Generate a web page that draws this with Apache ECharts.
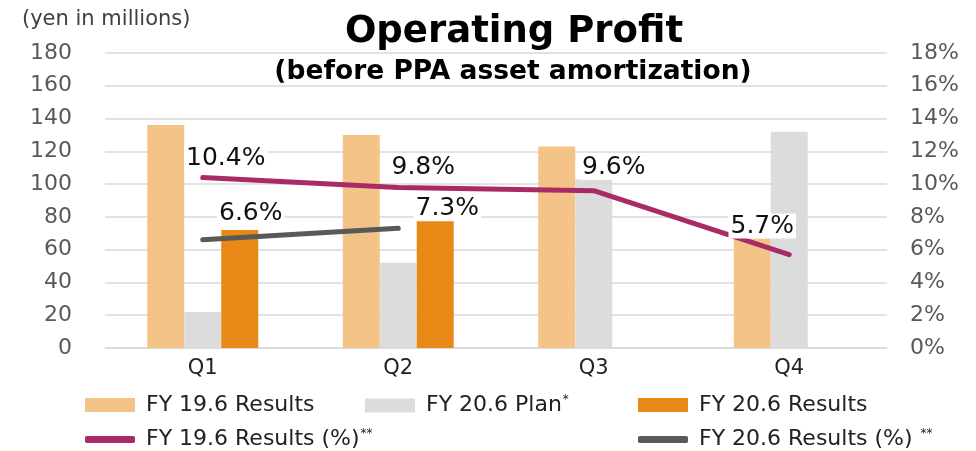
<!DOCTYPE html>
<html>
<head>
<meta charset="utf-8">
<title>Operating Profit</title>
<script src="https://cdn.jsdelivr.net/npm/echarts@6/dist/echarts.min.js"></script>
<style>
  html, body { margin: 0; padding: 0; background: #fff; }
  #chart { width: 976px; height: 451px; }
</style>
</head>
<body>
<div id="chart"></div>
<script>
// data
const categories = ['Q1', 'Q2', 'Q3', 'Q4'];
const fy19Results = [136, 130, 123, 67];
const fy20Plan = [22, 52, 103, 132];
const fy20Results = [72, 78, null, null];
const fy19Pct = [10.4, 9.8, 9.6, 5.7];
const fy20Pct = [6.6, 7.3, null, null];

// label nudges (layout only)
const fy19LabelOffsets = [[23, -2], [25, -2], [20, -6], [-27, -11]];
const fy20LabelOffsets = [[48, -9], [49, -2]];

const FONT = 'DejaVu Sans';

function pctPoints(values, offsets) {
    return values.map((v, i) => v == null ? null : {
        value: v,
        label: { offset: offsets[i] }
    });
}

const pctLabel = {
    show: true,
    position: 'top',
    formatter: p => p.value.toFixed(1) + '%',
    fontFamily: FONT,
    fontSize: 25,
    color: '#111',
    backgroundColor: '#fff',
    padding: [0, 2]
};

const legendText = {
    fontFamily: FONT,
    fontSize: 22,
    color: '#222',
    padding: [0, 0, 0, 6],
    rich: {
        t: { fontFamily: FONT, fontSize: 22, color: '#222' },
        s: { fontFamily: FONT, fontSize: 12, color: '#222', padding: [0, 0, 11, 1] }
    }
};
const legendNames = {
    'FY 19.6 Results': '{t|FY 19.6 Results}',
    'FY 20.6 Plan': '{t|FY 20.6 Plan}{s|*}',
    'FY 20.6 Results': '{t|FY 20.6 Results}',
    'FY 19.6 Results (%)': '{t|FY 19.6 Results (%)}{s|**}',
    'FY 20.6 Results (%)': '{t|FY 20.6 Results (%) }{s|**}'
};
function legendAt(name, left, top, icon, h) {
    return {
        data: [name],
        left: left,
        top: top,
        padding: 0,
        icon: icon,
        itemWidth: 50,
        itemHeight: h,
        selectedMode: false,
        formatter: n => legendNames[n],
        textStyle: legendText
    };
}

const chart = echarts.init(document.getElementById('chart'));
chart.setOption({
    animation: false,
    backgroundColor: '#fff',
    title: [
        {
            text: 'Operating Profit',
            left: 509,
            top: 9,
            textAlign: 'center',
            textStyle: { fontFamily: FONT, fontSize: 37, fontWeight: 'bold', color: '#000' }
        },
        {
            text: '(before PPA asset amortization)',
            left: 508,
            top: 54,
            textAlign: 'center',
            textStyle: { fontFamily: FONT, fontSize: 26.5, fontWeight: 'bold', color: '#000' }
        },
        {
            text: '(yen in millions)',
            left: 17,
            top: 4,
            textStyle: { fontFamily: FONT, fontSize: 21, fontWeight: 'normal', color: '#404040' }
        }
    ],
    grid: { left: 105, right: 89, top: 53, bottom: 103 },
    legend: [
        legendAt('FY 19.6 Results', 85, 394, 'rect', 14),
        legendAt('FY 20.6 Plan', 365, 394, 'rect', 14),
        legendAt('FY 20.6 Results', 638, 394, 'rect', 14),
        legendAt('FY 19.6 Results (%)', 85, 428, 'roundRect', 7),
        legendAt('FY 20.6 Results (%)', 638, 428, 'roundRect', 7)
    ],
    xAxis: {
        type: 'category',
        data: categories,
        axisTick: { show: false },
        axisLine: { lineStyle: { color: '#d9d9d9', width: 1.5 } },
        axisLabel: { fontFamily: FONT, fontSize: 21, color: '#222', margin: 10 }
    },
    yAxis: [
        {
            type: 'value',
            min: 0,
            max: 180,
            interval: 20,
            axisLine: { show: false },
            axisTick: { show: false },
            splitLine: { lineStyle: { color: '#d9d9d9', width: 1.5 } },
            axisLabel: { fontFamily: FONT, fontSize: 22, color: '#595959', margin: 33 }
        },
        {
            type: 'value',
            min: 0,
            max: 18,
            interval: 2,
            position: 'right',
            axisLine: { show: false },
            axisTick: { show: false },
            splitLine: { show: false },
            axisLabel: { fontFamily: FONT, fontSize: 22, color: '#595959', margin: 23, formatter: '{value}%' }
        }
    ],
    series: [
        {
            name: 'FY 19.6 Results',
            type: 'bar',
            data: fy19Results,
            barWidth: 37,
            barGap: '0%',
            itemStyle: { color: '#F4C387' }
        },
        {
            name: 'FY 20.6 Plan',
            type: 'bar',
            data: fy20Plan,
            barWidth: 37,
            barGap: '0%',
            itemStyle: { color: '#DCDCDC' }
        },
        {
            name: 'FY 20.6 Results',
            type: 'bar',
            data: fy20Results,
            barWidth: 37,
            barGap: '0%',
            itemStyle: { color: '#E98815' }
        },
        {
            name: 'FY 19.6 Results (%)',
            type: 'line',
            yAxisIndex: 1,
            data: pctPoints(fy19Pct, fy19LabelOffsets),
            symbol: 'circle',
            symbolSize: 0,
            showSymbol: true,
            lineStyle: { color: '#A82B68', width: 5, cap: 'round' },
            itemStyle: { color: '#A82B68' },
            label: pctLabel,
            z: 5
        },
        {
            name: 'FY 20.6 Results (%)',
            type: 'line',
            yAxisIndex: 1,
            data: pctPoints(fy20Pct, fy20LabelOffsets),
            symbol: 'circle',
            symbolSize: 0,
            showSymbol: true,
            lineStyle: { color: '#595959', width: 5, cap: 'round' },
            itemStyle: { color: '#595959' },
            label: pctLabel,
            z: 5
        }
    ]
});
</script>
</body>
</html>
